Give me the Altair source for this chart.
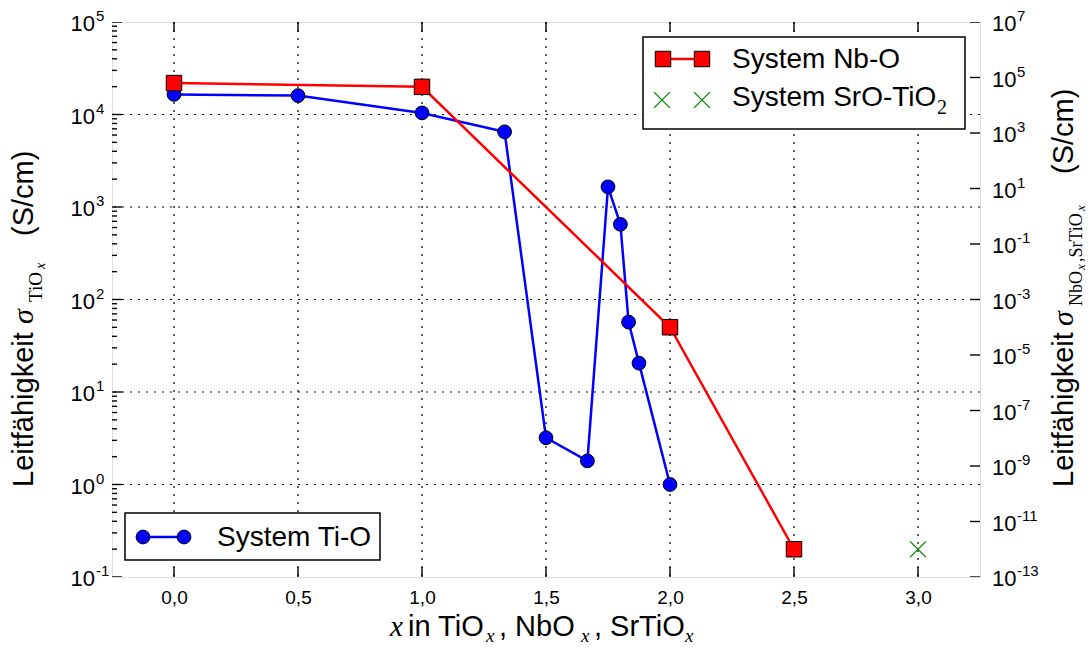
import altair as alt
import pandas as pd

# ---------------- data ----------------
ti_x = [0.0, 0.5, 1.0, 1.333, 1.5, 1.667, 1.75, 1.8, 1.833, 1.875, 2.0]
ti_y = [1.65e4, 1.6e4, 1.04e4, 6.5e3, 3.2, 1.8, 1.65e3, 6.5e2, 57, 20.5, 1.0]

nb_x = [0.0, 1.0, 2.0, 2.5]
nb_y = [6.3e4, 4.6e4, 1.0e-4, 1.0e-12]

sr_x = [3.0]
sr_y = [1.0e-12]

x_ticks = [0.0, 0.5, 1.0, 1.5, 2.0, 2.5, 3.0]
left_decades = [0.1, 1, 10, 100, 1000, 10000, 100000]
left_exps = ["-1", "0", "1", "2", "3", "4", "5"]
grid_decades = [1, 10, 100, 1000, 10000]
right_decades = [1e-13, 1e-11, 1e-9, 1e-7, 1e-5, 1e-3, 1e-1, 10, 1e3, 1e5, 1e7]
right_exps = ["-13", "-11", "-9", "-7", "-5", "-3", "-1", "1", "3", "5", "7"]
minor_mult = [2, 3, 4, 5, 6, 7, 8, 9]

W, H = 868, 555
SANS = "Liberation Sans"
SERIF = "Liberation Serif"

ti = pd.DataFrame({"x": ti_x, "y": ti_y})
nb = pd.DataFrame({"x": nb_x, "y": nb_y})
sr = pd.DataFrame({"x": sr_x, "y": sr_y})
xt = pd.DataFrame({"x": x_ticks})
ld = pd.DataFrame({"v": left_decades, "e": left_exps})
gd = pd.DataFrame({"v": grid_decades})
rd = pd.DataFrame({"v": right_decades, "e": right_exps})
lminor = pd.DataFrame({"v": [m * d for d in left_decades[:-1] for m in minor_mult]})

xs = alt.Scale(domain=[-0.25, 3.25], nice=False, zero=False)
yl = alt.Scale(type="log", domain=[0.1, 1e5], nice=False)
yr = alt.Scale(type="log", domain=[1e-13, 1e7], nice=False)

one = alt.Data(values=[{}])
DASH = [2, 6]


def txt(s, x, y, size, font=SANS, style="normal", angle=0, align="left",
        baseline="middle", color="black"):
    return alt.Chart(one).mark_text(
        text=s, fontSize=size, font=font, fontStyle=style, angle=angle,
        align=align, baseline=baseline, color=color
    ).encode(x=alt.value(x), y=alt.value(y))


def tick(orient, size):
    return dict(orient=orient, size=size, thickness=1.4, color="black", opacity=1, clip=True)


# ---------------- left (Ti-O) group ----------------
xaxis = alt.Axis(values=x_ticks, labelExpr="replace(format(datum.value,'.1f'),'.',',')",
                 labelFont=SANS, labelFontSize=19, labelColor="black", labelPadding=11,
                 ticks=False, tickSize=0, domain=False, grid=False, title=None)

grid_v = alt.Chart(xt).mark_rule(color="black", strokeWidth=1.2, strokeDash=DASH).encode(
    x=alt.X("x:Q", scale=xs, axis=xaxis))
grid_h = alt.Chart(gd).mark_rule(color="black", strokeWidth=1.2, strokeDash=DASH).encode(
    y=alt.Y("v:Q", scale=yl, axis=None))

ti_line = alt.Chart(ti).mark_line(color="blue", strokeWidth=2.5).encode(
    x=alt.X("x:Q", scale=xs), y=alt.Y("y:Q", scale=yl, axis=None))
ti_pts = alt.Chart(ti).mark_circle(size=190, color="blue", opacity=1, stroke="black",
                                   strokeWidth=1).encode(
    x=alt.X("x:Q", scale=xs), y=alt.Y("y:Q", scale=yl, axis=None))

lmaj = alt.Chart(ld).mark_tick(**tick("horizontal", 20)).encode(
    x=alt.value(0), y=alt.Y("v:Q", scale=yl, axis=None))
lmin = alt.Chart(lminor).mark_tick(**tick("horizontal", 10)).encode(
    x=alt.value(0), y=alt.Y("v:Q", scale=yl, axis=None))
xbot = alt.Chart(xt).mark_tick(**tick("vertical", 20)).encode(
    x=alt.X("x:Q", scale=xs), y=alt.value(H))
xtop = alt.Chart(xt).mark_tick(**tick("vertical", 20)).encode(
    x=alt.X("x:Q", scale=xs), y=alt.value(0))

l10 = alt.Chart(ld).mark_text(font=SANS, fontSize=22, align="right", baseline="middle",
                              dy=2, color="black").encode(
    x=alt.value(-17), y=alt.Y("v:Q", scale=yl, axis=None), text=alt.value("10"))
lexp = alt.Chart(ld).mark_text(font=SANS, fontSize=15, align="left", baseline="middle",
                               dy=-6, color="black").encode(
    x=alt.value(-16), y=alt.Y("v:Q", scale=yl, axis=None), text="e:N")

left = alt.layer(grid_v, grid_h, ti_line, lmaj, lmin, xbot, xtop, l10, lexp, ti_pts)

# ---------------- right (Nb-O, SrO-TiO2) group ----------------
nb_line = alt.Chart(nb).mark_line(color="red", strokeWidth=2.5).encode(
    x=alt.X("x:Q", scale=xs), y=alt.Y("y:Q", scale=yr, axis=None))
nb_pts = alt.Chart(nb).mark_square(size=240, color="red", opacity=1, stroke="black",
                                   strokeWidth=1).encode(
    x=alt.X("x:Q", scale=xs), y=alt.Y("y:Q", scale=yr, axis=None))
CROSS = "M -1 -1 L 1 1 M -1 1 L 1 -1"
sr_pts = alt.Chart(sr).mark_point(shape=CROSS, size=250, filled=False, color="green",
                                  strokeWidth=1.3, opacity=1).encode(
    x=alt.X("x:Q", scale=xs), y=alt.Y("y:Q", scale=yr, axis=None))
rmaj = alt.Chart(rd).mark_tick(**tick("horizontal", 20)).encode(
    x=alt.value(W), y=alt.Y("v:Q", scale=yr, axis=None))
r10 = alt.Chart(rd).mark_text(font=SANS, fontSize=22, align="left", baseline="middle",
                              dy=2, color="black").encode(
    x=alt.value(880), y=alt.Y("v:Q", scale=yr, axis=None), text=alt.value("10"))
rexp = alt.Chart(rd).mark_text(font=SANS, fontSize=15, align="left", baseline="middle",
                               dy=-6, color="black").encode(
    x=alt.value(905), y=alt.Y("v:Q", scale=yr, axis=None), text="e:N")

# legends
box1 = alt.Chart(one).mark_rect(fill="white", stroke="black", strokeWidth=1.5).encode(
    x=alt.value(531), x2=alt.value(853), y=alt.value(15), y2=alt.value(107))
leg_nb_line = alt.Chart(one).mark_rule(color="red", strokeWidth=2.5).encode(
    x=alt.value(551), x2=alt.value(590), y=alt.value(37))
leg_nb_a = alt.Chart(one).mark_square(size=240, color="red", opacity=1, stroke="black",
                                      strokeWidth=1).encode(x=alt.value(551), y=alt.value(37))
leg_nb_b = alt.Chart(one).mark_square(size=240, color="red", opacity=1, stroke="black",
                                      strokeWidth=1).encode(x=alt.value(590), y=alt.value(37))
leg_sr_a = alt.Chart(one).mark_point(shape=CROSS, size=250, filled=False, color="green",
                                     strokeWidth=1.3, opacity=1).encode(
    x=alt.value(550), y=alt.value(78))
leg_sr_b = alt.Chart(one).mark_point(shape=CROSS, size=250, filled=False, color="green",
                                     strokeWidth=1.3, opacity=1).encode(
    x=alt.value(590), y=alt.value(78))
leg_t1 = txt("System Nb-O", 620, 38, 28)
leg_t2 = txt("System SrO-TiO", 620, 76, 28)
leg_t2s = txt("2", 825, 92, 20, font=SERIF, baseline="alphabetic")

box2 = alt.Chart(one).mark_rect(fill="white", stroke="black", strokeWidth=1.5).encode(
    x=alt.value(13), x2=alt.value(268), y=alt.value(491), y2=alt.value(538))
leg_ti_line = alt.Chart(one).mark_rule(color="blue", strokeWidth=2.5).encode(
    x=alt.value(31), x2=alt.value(72), y=alt.value(515))
leg_ti_a = alt.Chart(one).mark_circle(size=190, color="blue", opacity=1, stroke="black",
                                      strokeWidth=1).encode(x=alt.value(31), y=alt.value(515))
leg_ti_b = alt.Chart(one).mark_circle(size=190, color="blue", opacity=1, stroke="black",
                                      strokeWidth=1).encode(x=alt.value(72), y=alt.value(515))
leg_t3 = txt("System Ti-O", 105, 516, 28)

# axis titles
XB = 614
xt_parts = [
    txt("x", 278, XB, 29, font=SERIF, style="italic", baseline="alphabetic"),
    txt("in TiO", 296, XB, 29, baseline="alphabetic"),
    txt("x", 374, XB + 6, 19, font=SERIF, style="italic", baseline="alphabetic"),
    txt(", NbO", 387, XB, 29, baseline="alphabetic"),
    txt("x", 469, XB + 6, 19, font=SERIF, style="italic", baseline="alphabetic"),
    txt(", SrTiO", 482, XB, 29, baseline="alphabetic"),
    txt("x", 573, XB + 6, 19, font=SERIF, style="italic", baseline="alphabetic"),
]
A = 270
yl_parts = [
    txt("Leitfähigkeit", -79, 465, 29, angle=A, baseline="alphabetic"),
    txt("σ", -79, 302, 30, font=SERIF, style="italic", angle=A, baseline="alphabetic"),
    txt("TiO", -70, 280, 19, font=SERIF, angle=A, baseline="alphabetic"),
    txt("x", -67, 247, 14, font=SERIF, style="italic", angle=A, baseline="alphabetic"),
    txt("(S/cm)", -79, 214, 29, angle=A, baseline="alphabetic"),
]
yr_parts = [
    txt("Leitfähigkeit", 961, 465, 29, angle=A, baseline="alphabetic"),
    txt("σ", 961, 304, 30, font=SERIF, angle=A, style="italic", baseline="alphabetic"),
    txt("NbO", 970, 284, 18, font=SERIF, angle=A, baseline="alphabetic"),
    txt("x", 973, 248, 13, font=SERIF, style="italic", angle=A, baseline="alphabetic"),
    txt(",SrTiO", 970, 240, 18, font=SERIF, angle=A, baseline="alphabetic"),
    txt("x", 973, 189, 13, font=SERIF, style="italic", angle=A, baseline="alphabetic"),
    txt("(S/cm)", 961, 152, 29, angle=A, baseline="alphabetic"),
]

right = alt.layer(
    nb_line, nb_pts, sr_pts, rmaj, r10, rexp,
    box1, leg_nb_line, leg_nb_a, leg_nb_b, leg_sr_a, leg_sr_b, leg_t1, leg_t2, leg_t2s,
    box2, leg_ti_line, leg_ti_a, leg_ti_b, leg_t3,
    *xt_parts, *yl_parts, *yr_parts,
)

chart = alt.layer(left, right).resolve_scale(y="independent").properties(
    width=W, height=H,
    autosize=alt.AutoSizeParams(type="none"),
    padding={"left": 112, "top": 22, "right": 110, "bottom": 72},
).configure_view(stroke="black", strokeWidth=2).configure(background="white")

chart.save("out.html", embed_options={"renderer": "svg", "actions": False})
